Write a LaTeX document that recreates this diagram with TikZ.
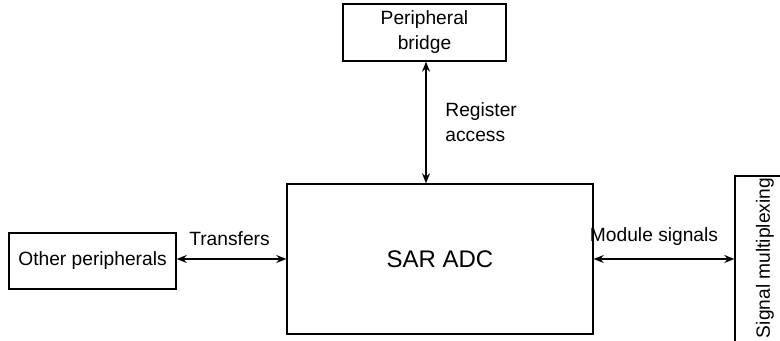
\documentclass[tikz,border=0pt]{standalone}
\usepackage{fontspec}
\setmainfont{Liberation Sans}
\usetikzlibrary{arrows.meta}
\begin{document}
\begin{tikzpicture}[x=0.5pt,y=-0.5pt,
  box/.style={draw, line width=0.7pt, inner sep=0pt},
  conn/.style={line width=0.65pt, {Stealth[length=5pt,width=4pt]}-{Stealth[length=5pt,width=4pt]}},
  lbl/.style={font=\fontsize{9.6pt}{12.5pt}\selectfont, inner sep=0pt}]
\useasboundingbox (0,0) rectangle (780,341);
\node[box, minimum width=81.5pt, minimum height=28.5pt, align=center, lbl, draw] (pb) at (424.5,32.5) {Peripheral\\bridge};
\node[box, minimum width=153pt, minimum height=75pt, font=\fontsize{12pt}{14pt}\selectfont] (sar) at (440,259) {SAR ADC};
\node[box, minimum width=83.5pt, minimum height=28pt, lbl, draw] (op) at (92.5,261) {Other peripherals};
\node[box, minimum width=40pt, minimum height=100pt] (sm) at (775,276) {};
\node[lbl, rotate=90] (smtext) at (765,258) {Signal multiplexing};
\draw[conn] (pb.south -| 426,0) -- (426,0 |- sar.north);
\draw[conn] (op.east |- sar.west) -- (sar.west);
\draw[conn] (sar.east) -- (sm.west |- sar.east);
\node[lbl, anchor=south] (tr) at (229.5,246) {Transfers};
\node[lbl, anchor=south] (ms) at (654,246) {Module signals};
\node[lbl, anchor=west, align=left] (ra) at (445,122) {Register\\access};
\end{tikzpicture}
\end{document}
